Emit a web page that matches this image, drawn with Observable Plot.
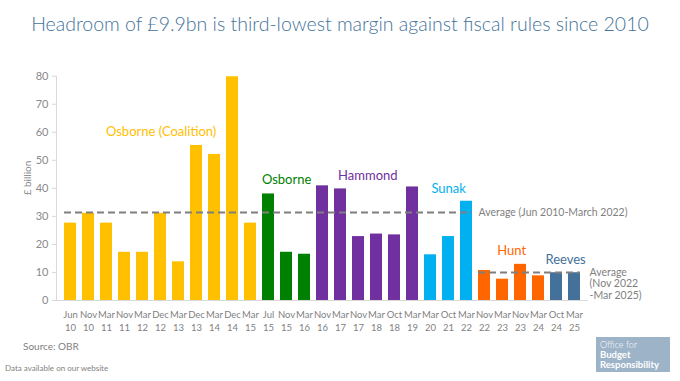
<!DOCTYPE html>
<html>
<head>
<meta charset="utf-8">
<script src="https://cdn.jsdelivr.net/npm/d3@7"></script>
<script src="https://cdn.jsdelivr.net/npm/@observablehq/plot@0.6"></script>
<style>
  html, body { margin: 0; padding: 0; background: #fff; }
  #wrap { position: relative; width: 680px; height: 381px; overflow: hidden; font-family: Lato, "Open Sans", sans-serif; }
  #title { position: absolute; left: 0; width: 680px; top: 12px; text-align: center; font-size: 19.5px; font-weight: 300; color: #44739B; white-space: nowrap; }
  #chart { position: absolute; left: 0; top: 55px; }
  #source { position: absolute; left: 23px; top: 340px; font-size: 10px; color: #7f7f7f; }
  #data { position: absolute; left: 5px; top: 363px; font-size: 8px; color: #7f7f7f; }
  #logo { position: absolute; left: 596px; top: 337px; width: 74px; height: 35px; background: #9DB3C8; color: #fff; box-sizing: border-box; padding: 3px 0 0 4px; font-size: 9px; line-height: 10px; }
  #logo b { font-weight: 700; font-size: 9.5px; }
</style>
</head>
<body>
<div id="wrap">
  <div id="title">Headroom of £9.9bn is third-lowest margin against fiscal rules since 2010</div>
  <div id="chart"></div>
  <div id="source">Source: OBR</div>
  <div id="data">Data available on our website</div>
  <div id="logo"><span style="font-weight:300">Office for</span><br><b>Budget</b><br><b>Responsibility</b></div>
</div>
<script>
// ---- data ----
const categories = ["Jun 10","Nov 10","Mar 11","Nov 11","Mar 12","Dec 12","Mar 13","Dec 13","Mar 14","Dec 14","Mar 15",
  "Jul 15","Nov 15","Mar 16",
  "Nov 16","Mar 17","Nov 17","Mar 18","Oct 18","Mar 19",
  "Mar 20","Oct 21","Mar 22",
  "Nov 22","Mar 23","Nov 23","Mar 24",
  "Oct 24","Mar 25"];
const values = [27.6, 31.1, 27.6, 17.2, 17.2, 31.1, 13.8, 55.3, 52.1, 79.8, 27.6,
  38.0, 17.2, 16.5,
  40.9, 39.8, 22.8, 23.7, 23.4, 40.5,
  16.3, 22.8, 35.4,
  10.7, 7.6, 12.9, 8.8,
  9.9, 9.9];
const chancellorNames = ["Osborne (Coalition)", "Osborne", "Hammond", "Sunak", "Hunt", "Reeves"];
const chancellorCounts = [11, 3, 6, 3, 4, 2];
const chancellorColors = ["#FFC000", "#008000", "#7030A0", "#00B0F0", "#FF6600", "#44719A"];
const chancellorLabelY = [60.3, 43.0, 44.3, 40.0, 17.8, 14.5];
const yTicks = [0, 10, 20, 30, 40, 50, 60, 70, 80];
const yLabel = "£ billion";
const averageLabels = ["Average (Jun 2010-March 2022)", "Average\n(Nov 2022\n-Mar 2025)"];
const averageValues = [31.4, 10.0];
const averageFrom = ["Jun 10", "Nov 22"];
const averageTo = ["Mar 22", "Mar 25"];

// ---- build ----
const chancellorOf = chancellorNames.flatMap((n, i) => Array(chancellorCounts[i]).fill(n));
const table = categories.map((c, i) => ({category: c, value: values[i], chancellor: chancellorOf[i]}));
const averages = averageValues.map((v, i) => ({value: v, from: averageFrom[i], to: averageTo[i], label: averageLabels[i]}));

const W = 680, H = 290, mL = 56, mR = 92, mT = 20.7, mB = 45;
const xs = Plot.scale({x: {type: "band", domain: categories, range: [mL, W - mR], padding: 0.35}});
const step = xs.apply(categories[1]) - xs.apply(categories[0]);

let start = 0;
const labelMarks = chancellorNames.map((name, i) => {
  const first = categories[start];
  const n = chancellorCounts[i];
  start += n;
  return Plot.text([name], {
    x: () => first, y: () => chancellorLabelY[i], text: d => d,
    dx: (n - 1) / 2 * step, fill: chancellorColors[i], fontSize: 13
  });
});

const font = "Lato, 'Open Sans', sans-serif";
const chart = Plot.plot({
  width: W, height: H,
  marginLeft: mL, marginRight: mR, marginTop: mT, marginBottom: mB,
  style: {fontFamily: font, background: "transparent"},
  x: {domain: categories, padding: 0.35, axis: null},
  y: {domain: [0, 80], axis: null},
  color: {domain: chancellorNames, range: chancellorColors},
  marks: [
    Plot.axisY({ticks: yTicks, tickSize: 4, tickPadding: 4, fontSize: 11, stroke: "#d9d9d9", fill: "#8a8a8a", label: null}),
    Plot.text([yLabel], {frameAnchor: "left", y: () => 37.5, text: d => d, rotate: -90, dx: -29, fontSize: 10, fill: "#8a8a8a"}),
    Plot.frame({anchor: "left", stroke: "#d9d9d9"}),
    Plot.ruleY([0], {stroke: "#d9d9d9"}),
    Plot.barY(table, {x: "category", y: "value", fill: "chancellor"}),
    Plot.ruleY(averages, {y: "value", x1: "from", x2: "to", stroke: "#7f7f7f", strokeWidth: 2, strokeDasharray: "7,4"}),
    Plot.text(averages.slice(0, 1), {x: "to", y: "value", text: "label", textAnchor: "start", dx: 12, fill: "#7f7f7f", fontSize: 10.5}),
    Plot.text(averages.slice(1), {x: "to", y: () => 6, text: "label", textAnchor: "start", dx: 15, fill: "#7f7f7f", fontSize: 10.5, lineHeight: 1.1}),
    ...labelMarks,
    Plot.axisX({tickSize: 0, tickPadding: 8, fontSize: 9.5, fill: "#7f7f7f", lineHeight: 1.37, tickFormat: d => d.replace(" ", "\n"), label: null})
  ]
});
document.getElementById("chart").appendChild(chart);
</script>
</body>
</html>
